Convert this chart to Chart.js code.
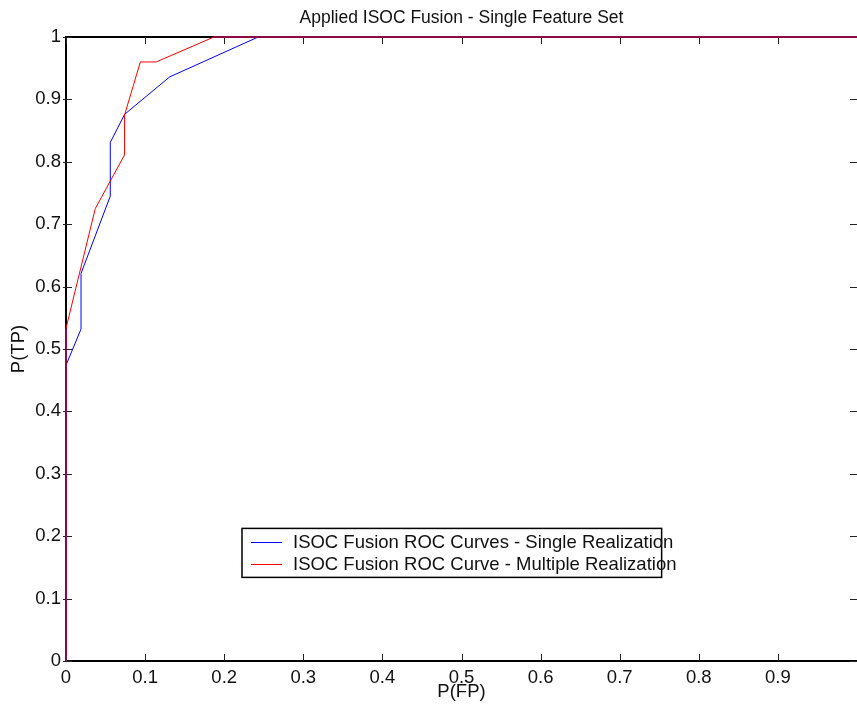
<!DOCTYPE html>
<html>
<head>
<meta charset="utf-8">
<title>Applied ISOC Fusion - Single Feature Set</title>
<script src="https://cdn.jsdelivr.net/npm/chart.js@4.4.1/dist/chart.umd.min.js"></script>
<style>
  html, body { margin: 0; padding: 0; background: #fff; }
  #wrap { width: 857px; height: 711px; position: relative; }
</style>
</head>
<body>
<div id="wrap"><canvas id="roc"></canvas></div>
<script>
// ===== Data =====
const chartTitle = 'Applied ISOC Fusion - Single Feature Set';
const xTitle = 'P(FP)';
const yTitle = 'P(TP)';

const singleLabel = 'ISOC Fusion ROC Curves - Single Realization';
const singleFP = [0, 0, 0.019, 0.019, 0.056, 0.056, 0.074, 0.131, 0.243, 1];
const singleTP = [0, 0.474, 0.532, 0.621, 0.745, 0.831, 0.876, 0.936, 1, 1];

const multiLabel = 'ISOC Fusion ROC Curve - Multiple Realization';
const multiFP = [0, 0, 0.037, 0.074, 0.074, 0.094, 0.114, 0.187, 1];
const multiTP = [0, 0.533, 0.725, 0.811, 0.875, 0.960, 0.960, 1, 1];

const xTicks = [0, 0.1, 0.2, 0.3, 0.4, 0.5, 0.6, 0.7, 0.8, 0.9, 1];
const yTicks = [0, 0.1, 0.2, 0.3, 0.4, 0.5, 0.6, 0.7, 0.8, 0.9, 1];

// ===== Helpers =====
const FONT = "'Liberation Sans', Arial, Helvetica, sans-serif";
const toPoints = (xs, ys) => xs.map((x, i) => ({ x, y: ys[i] }));

// segments that sit on the plot frame look dark maroon in the original
const onFrame = ctx => (ctx.p0.parsed.x === 0 && ctx.p1.parsed.x === 0) ||
                       (ctx.p0.parsed.y === 1 && ctx.p1.parsed.y === 1);

// ===== Frame, inward ticks and boxed legend =====
const matlabFrame = {
  id: 'matlabFrame',
  beforeDatasetsDraw(chart) {
    const { ctx, chartArea: a, scales: { x, y } } = chart;
    ctx.save();
    // right edge of the frame falls just outside the picture
    ctx.strokeStyle = '#000';
    ctx.lineWidth = 2;
    ctx.strokeRect(a.left, a.top, a.right - a.left + 2, a.bottom - a.top);

    ctx.lineWidth = 1;
    ctx.strokeStyle = '#222';
    ctx.beginPath();
    xTicks.forEach(v => {
      const px = Math.round(x.getPixelForValue(v)) + 0.5;
      ctx.moveTo(px, a.bottom); ctx.lineTo(px, a.bottom - 7);
      ctx.moveTo(px, a.top); ctx.lineTo(px, a.top + 7);
    });
    yTicks.forEach(v => {
      const py = Math.round(y.getPixelForValue(v)) + 0.5;
      ctx.moveTo(a.left - 3, py); ctx.lineTo(a.left + 6, py);
      ctx.moveTo(a.right, py); ctx.lineTo(a.right - 7, py);
    });
    ctx.stroke();
    ctx.restore();
  },
  afterDraw(chart) {
    const { ctx, scales: { x, y } } = chart;
    const ds = chart.data.datasets;
    // legend box anchored in data space
    const left = x.getPixelForValue(0.2225), right = x.getPixelForValue(0.753);
    const top = y.getPixelForValue(0.2125), bottom = y.getPixelForValue(0.134);
    ctx.save();
    ctx.fillStyle = '#fff';
    ctx.fillRect(left, top, right - left, bottom - top);
    ctx.strokeStyle = '#000';
    ctx.lineWidth = 1.5;
    ctx.strokeRect(left, top, right - left, bottom - top);
    ctx.font = '18.5px ' + FONT;
    ctx.textBaseline = 'middle';
    ctx.textAlign = 'left';
    const rowH = (bottom - top) / 2.2;
    ds.forEach((d, i) => {
      const cy = top + (bottom - top) / 2 + (i - 0.5) * rowH;
      ctx.strokeStyle = d.borderColor;
      ctx.lineWidth = 1;
      ctx.beginPath();
      ctx.moveTo(left + 9, Math.round(cy) + 0.5);
      ctx.lineTo(left + 40, Math.round(cy) + 0.5);
      ctx.stroke();
      ctx.fillStyle = '#111';
      ctx.fillText(d.label, left + 51, cy + 1);
    });
    ctx.restore();
  }
};

// ===== Chart =====
new Chart(document.getElementById('roc'), {
  type: 'line',
  data: {
    datasets: [
      {
        label: singleLabel,
        data: toPoints(singleFP, singleTP),
        borderColor: '#0000ff',
        borderWidth: 1,
        pointRadius: 0,
        tension: 0,
        clip: 3,
        order: 1
      },
      {
        label: multiLabel,
        data: toPoints(multiFP, multiTP),
        borderColor: '#ff0000',
        borderWidth: 1,
        pointRadius: 0,
        tension: 0,
        clip: 3,
        order: 0,
        segment: {
          borderColor: ctx => onFrame(ctx) ? '#8a0a48' : undefined,
          borderWidth: ctx => onFrame(ctx) ? 2 : undefined
        }
      }
    ]
  },
  options: {
    responsive: true,
    maintainAspectRatio: false,
    animation: false,
    layout: { autoPadding: false, padding: 0 },
    plugins: {
      legend: { display: false },
      tooltip: { enabled: false },
      title: {
        display: true,
        fullSize: false,
        text: chartTitle,
        color: '#111',
        font: { family: FONT, size: 17.5, weight: 'normal' },
        padding: { top: 8, bottom: 8 }
      }
    },
    scales: {
      x: {
        type: 'linear',
        min: 0, max: 1,
        grid: { display: false, drawTicks: false },
        border: { display: false },
        afterFit: s => { s.height = 50; s.paddingLeft = 0; s.paddingRight = 0; },
        afterBuildTicks: s => { s.ticks = xTicks.map(v => ({ value: v })); },
        ticks: {
          color: '#111',
          padding: 6,
          maxRotation: 0,
          autoSkip: false,
          font: { family: FONT, size: 18.5 },
          callback: v => v >= 0.999 ? '' : String(+v.toFixed(1))
        },
        title: {
          display: true, text: xTitle, color: '#111',
          font: { family: FONT, size: 18.5 },
          padding: { top: 0, bottom: 8 }
        }
      },
      y: {
        type: 'linear',
        min: 0, max: 1,
        grid: { display: false, drawTicks: false },
        border: { display: false },
        afterFit: s => { s.width = 66; },
        afterBuildTicks: s => { s.ticks = yTicks.map(v => ({ value: v })); },
        ticks: {
          color: '#111',
          padding: 5,
          autoSkip: false,
          font: { family: FONT, size: 18.5 },
          callback: v => String(+v.toFixed(1))
        },
        title: {
          display: true, text: yTitle, color: '#111',
          font: { family: FONT, size: 18.5 },
          padding: { top: 8, bottom: 0 }
        }
      }
    }
  },
  plugins: [matlabFrame]
});
</script>
</body>
</html>
